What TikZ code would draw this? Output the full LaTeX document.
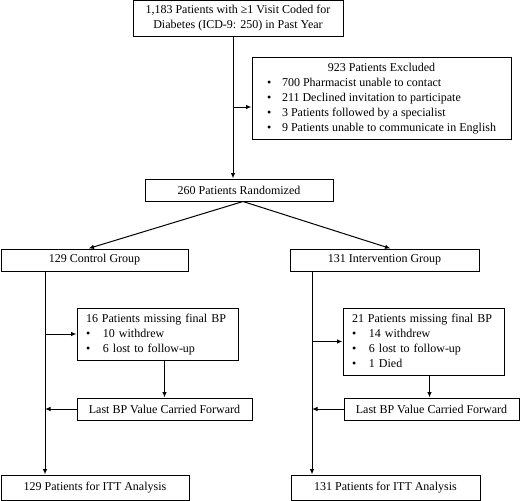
\documentclass[tikz,border=0pt]{standalone}
\usepackage{fontspec}
\setmainfont{Liberation Serif}
\usetikzlibrary{arrows.meta}
\tikzset{
    box/.style={draw, line width=1pt, inner sep=0pt, align=center,
        font=\fontsize{12}{15}\selectfont},
    leftbox/.style={box, inner xsep=9pt, align=left},
    arr/.style={line width=1pt, -{Latex[length=5.5pt,width=4.5pt]}}
}
\begin{document}
\begin{tikzpicture}[x=1pt, y=-1pt]
    \useasboundingbox (0,0) rectangle (520,501);

    %boxes:
    \node[box, minimum width=210, minimum height=36] (top) at (238,18.5)
        {1,183 Patients with ≥1 Visit Coded for\\Diabetes (ICD-9: 250) in Past Year};
    \node[box, minimum width=259, minimum height=82] (excl) at (381.5,98)
        {\begin{tabular}{@{}p{15pt}@{}l@{}}
            \multicolumn{2}{c}{923 Patients Excluded}\\
            \textbullet & 700 Pharmacist unable to contact\\
            \textbullet & 211 Declined invitation to participate\\
            \textbullet & 3 Patients followed by a specialist\\
            \textbullet & 9 Patients unable to communicate in English
        \end{tabular}};
    \node[box, minimum width=188, minimum height=22] (rand) at (239,190) {260 Patients Randomized};
    \node[box, minimum width=187, minimum height=22] (ctrl) at (94.5,260) {129 Control Group};
    \node[box, minimum width=189, minimum height=22] (intv) at (384.5,260) {131 Intervention Group};

    \node[leftbox, text width=143, minimum height=52] (miss1) at (157.5,334)
        {\begin{tabular}{@{}p{17pt}@{}l@{}}
            \multicolumn{2}{@{}l}{16 Patients missing final BP}\\
            \textbullet & 10 withdrew\\
            \textbullet & 6 lost to follow-up
        \end{tabular}};
    \node[leftbox, text width=143, minimum height=67] (miss2) at (423.5,341.5)
        {\begin{tabular}{@{}p{17pt}@{}l@{}}
            \multicolumn{2}{@{}l}{21 Patients missing final BP}\\
            \textbullet & 14 withdrew\\
            \textbullet & 6 lost to follow-up\\
            \textbullet & 1 Died
        \end{tabular}};
    \node[box, minimum width=175, minimum height=22] (last1) at (164.5,409) {Last BP Value Carried Forward};
    \node[box, minimum width=175, minimum height=22] (last2) at (431.5,409) {Last BP Value Carried Forward};
    \node[box, minimum width=188, minimum height=25] (itt1) at (95,487.5) {129 Patients for ITT Analysis};
    \node[box, minimum width=189, minimum height=25] (itt2) at (385.5,487.5) {131 Patients for ITT Analysis};

    %main line:
    \coordinate (ml) at (233,0);
    \coordinate (cl) at (45,0);
    \coordinate (il) at (312,0);
    \draw[arr] (top.south -| ml) -- (rand.north -| ml);
    \draw[arr] (ml |- 0,107) -- (excl.west |- 0,107);
    \draw[arr] ([xshift=4]rand.south) -- ([xshift=-6]ctrl.north);
    \draw[arr] ([xshift=4]rand.south) -- ([xshift=6]intv.north);

    %control arm:
    \draw[arr] (ctrl.south -| cl) -- (itt1.north -| cl);
    \draw[arr] (miss1.west -| cl) -- (miss1.west);
    \draw[arr] (last1.north |- miss1.south) -- (last1.north);
    \draw[arr] (last1.west) -- (last1.west -| cl);

    %intervention arm:
    \draw[arr] (intv.south -| il) -- (itt2.north -| il);
    \draw[arr] (miss2.west -| il) -- (miss2.west);
    \draw[arr] ([xshift=-2]last2.north |- miss2.south) -- ([xshift=-2]last2.north);
    \draw[arr] (last2.west) -- (last2.west -| il);

\end{tikzpicture}
\end{document}
